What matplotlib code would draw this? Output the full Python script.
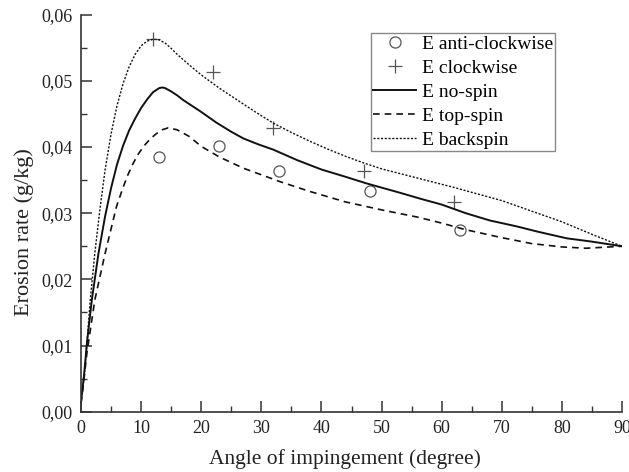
import matplotlib
matplotlib.use("Agg")
import matplotlib.pyplot as plt
from matplotlib.ticker import MultipleLocator, FuncFormatter

# Experimental data
anti_x = [13, 23, 33, 48, 63]
anti_y = [0.0385, 0.0401, 0.0363, 0.0333, 0.0274]
clock_x = [12, 22, 32, 47, 62]
clock_y = [0.0563, 0.0513, 0.0428, 0.0363, 0.0317]

# Model curves
nospin_x = [0, 0.5, 1, 1.8, 2.9, 4, 5, 6, 7, 8, 9, 10, 11, 12, 13, 13.5,
            14, 15, 16, 17, 18, 20, 22.5, 25, 27, 29.5, 32, 36, 40, 44, 47.5, 53, 56.4,
            60, 64, 68, 72.5, 76, 80.8, 85, 90]
nospin_y = [0.0015, 0.0055, 0.0105, 0.0169, 0.0239, 0.0295, 0.0338, 0.0374, 0.0402, 0.0425,
            0.0443, 0.0459, 0.0472, 0.0483, 0.0489, 0.0490, 0.0489, 0.0484, 0.0478, 0.0471,
            0.0465, 0.0453, 0.0437, 0.0423, 0.0413, 0.0404, 0.0396, 0.0380, 0.0366, 0.0355,
            0.0345, 0.0331, 0.0322, 0.0313, 0.0300, 0.0289, 0.0280, 0.0272, 0.0262, 0.0257,
            0.0250]

back_x = [0, 0.5, 1, 1.5, 2.3, 3.2, 4, 5, 6, 7, 8, 9, 10, 11, 12, 13, 14, 15,
          16, 17, 18, 20, 23, 26, 29, 32, 35, 38, 41, 44, 47, 50, 56, 62, 66, 70, 75, 80,
          85, 90]
back_y = [0.0015, 0.005, 0.0105, 0.0165, 0.024, 0.031, 0.0365, 0.0420, 0.0463, 0.0496,
          0.0521, 0.0540, 0.0553, 0.0560, 0.0563, 0.0562, 0.0557, 0.0549, 0.0540, 0.0532,
          0.0524, 0.0509, 0.0489, 0.0471, 0.0453, 0.0436, 0.0422, 0.0409, 0.0397, 0.0386,
          0.0376, 0.0367, 0.0353, 0.0339, 0.0329, 0.0319, 0.0303, 0.0287, 0.0268, 0.0250]

top_x = [0, 0.5, 1, 2.3, 4.0, 5.9, 7.0, 7.8, 8.6, 9.5, 10.5, 11.5, 12.5, 13.5, 14.5, 16,
         18, 20, 23, 27, 33, 38, 44, 50, 56, 60, 64, 70, 75, 80, 84, 90]
top_y = [0.0012, 0.005, 0.009, 0.0169, 0.0239, 0.031, 0.0339, 0.0358, 0.0374, 0.0389,
         0.0402, 0.0412, 0.0420, 0.0426, 0.0429, 0.0426, 0.0416, 0.0401, 0.0385, 0.0368,
         0.0348, 0.0333, 0.0317, 0.0305, 0.0294, 0.0285, 0.0275, 0.0263, 0.0254, 0.0249,
         0.0247, 0.0250]

x_label = "Angle of impingement (degree)"
y_label = "Erosion rate (g/kg)"

plt.rcParams['font.family'] = ['Liberation Serif', 'DejaVu Serif']

fig = plt.figure(figsize=(6.29, 4.72), dpi=100)
ax = fig.add_axes([0.1288, 0.1278, 0.8601, 0.8411])

mc = '#555555'
ax.plot(anti_x, anti_y, linestyle='none', marker='o', markersize=8, markerfacecolor='none',
        markeredgecolor=mc, markeredgewidth=0.9, label='E anti-clockwise')
ax.plot(clock_x, clock_y, linestyle='none', marker='+', markersize=9.5, color=mc,
        markeredgewidth=0.9, label='E clockwise')
ax.plot(nospin_x, nospin_y, color='#111111', lw=1.4, ls='-', label='E no-spin')
ax.plot(top_x, top_y, color='#111111', lw=1.2, ls=(0, (4, 3)), label='E top-spin')
ax.plot(back_x, back_y, color='#111111', lw=1.0, ls=(0, (1.5, 1.2)), label='E backspin')

ax.set_xlim(0, 90)
ax.set_ylim(0, 0.06)
ax.xaxis.set_major_locator(MultipleLocator(10))
ax.xaxis.set_minor_locator(MultipleLocator(5))
ax.yaxis.set_major_locator(MultipleLocator(0.01))
ax.yaxis.set_minor_locator(MultipleLocator(0.005))
ax.yaxis.set_major_formatter(FuncFormatter(lambda v, p: f"{v:.2f}".replace('.', ',')))

for s in ['top', 'right']:
    ax.spines[s].set_visible(False)
for s in ['left', 'bottom']:
    ax.spines[s].set_color('#333333')
    ax.spines[s].set_linewidth(1.2)

ax.tick_params(which='major', direction='in', length=8, width=1.1, color='#333333',
               labelsize=13, labelcolor='#222222', pad=6)
ax.tick_params(which='minor', direction='in', length=4, width=1.0, color='#333333')

ax.set_xlabel(x_label, fontsize=15.5, color='#222222')
ax.set_ylabel(y_label, fontsize=16, color='#222222')
ax.xaxis.set_label_coords(0.488, -0.094)
ax.yaxis.set_label_coords(-0.087, 0.453)

leg = ax.legend(loc='upper left', bbox_to_anchor=(0.536, 0.954), fontsize=14,
                frameon=True, fancybox=False, edgecolor='#888888', framealpha=1,
                handlelength=2.2, handletextpad=0.3, borderpad=0.12, labelspacing=0.33,
                borderaxespad=0)
leg.get_frame().set_linewidth(1.0)

fig.savefig('out.png', dpi=100)
